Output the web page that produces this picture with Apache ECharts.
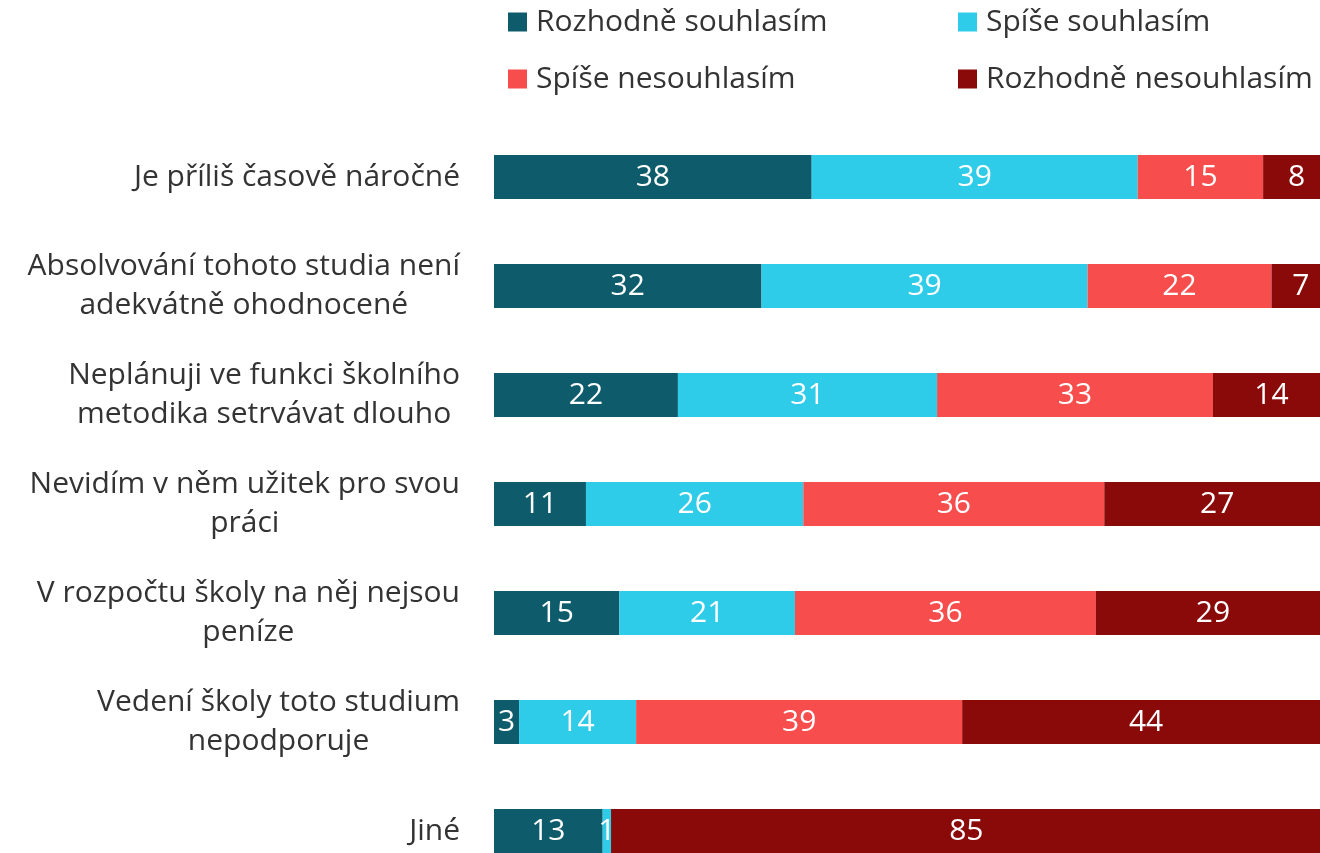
<!DOCTYPE html>
<html><head><meta charset="utf-8">
<script src="https://cdn.jsdelivr.net/npm/echarts@6/dist/echarts.min.js"></script>
<style>html,body{margin:0;padding:0;background:#fff;overflow:hidden}#c{width:1332px;height:890px}</style>
</head><body><div id="c"></div>
<script>
const categories = [
  'Je příliš časově náročné',
  'Absolvování tohoto studia není\nadekvátně ohodnocené',
  'Neplánuji ve funkci školního\nmetodika setrvávat dlouho',
  'Nevidím v něm užitek pro svou\npráci',
  'V rozpočtu školy na něj nejsou\npeníze',
  'Vedení školy toto studium\nnepodporuje',
  'Jiné'
];
const seriesNames = ['Rozhodně souhlasím', 'Spíše souhlasím', 'Spíše nesouhlasím', 'Rozhodně nesouhlasím'];
const rozhodneSouhlasim   = [38, 32, 22, 11, 15, 3, 13];
const spiseSouhlasim      = [39, 39, 31, 26, 21, 14, 1];
const spiseNesouhlasim    = [15, 22, 33, 36, 36, 39, 0];
const rozhodneNesouhlasim = [8, 7, 14, 27, 29, 44, 85];
const colors = ['#0E5C6B', '#2ECCE8', '#F74D4D', '#8A0A0A'];

const FONT = '"Open Sans", "Noto Sans", sans-serif';
const chart = echarts.init(document.getElementById('c'), null, {renderer: 'canvas'});
const values = [rozhodneSouhlasim, spiseSouhlasim, spiseNesouhlasim, rozhodneNesouhlasim];

const legendPos = [[508, 7], [958, 7], [508, 64], [958, 64]];
const legends = seriesNames.map((n, i) => ({
  show: true, data: [n], left: legendPos[i][0], top: legendPos[i][1],
  itemWidth: 19, itemHeight: 19, icon: 'rect', padding: 0,
  textStyle: {fontFamily: FONT, fontSize: 30, color: '#333', padding: [0, 0, 0, 4]}
}));

chart.setOption({
  animation: false,
  backgroundColor: '#fff',
  legend: legends,
  grid: {left: 494, top: 122.5, width: 836, height: 763, containLabel: false},
  xAxis: {type: 'value', min: 0, max: 100, show: false},
  yAxis: {
    type: 'category', data: categories, inverse: true,
    axisLine: {show: false}, axisTick: {show: false}, splitLine: {show: false},
    axisLabel: {
      margin: 34, align: 'right',
      formatter: v => v.split('\n').map(s => '{a|' + s + '}').join('\n'),
      rich: {a: {align: 'center', fontFamily: FONT, fontSize: 30, color: '#333', lineHeight: 39}}
    }
  },
  series: seriesNames.map((n, i) => ({
    name: n, type: 'bar', stack: 'total', barWidth: 44,
    itemStyle: {color: colors[i]},
    label: {
      show: true, position: 'inside', color: '#fff', fontFamily: FONT, fontSize: 30,
      formatter: p => p.value ? String(p.value) : ''
    },
    data: values[i]
  }))
});
</script></body></html>
